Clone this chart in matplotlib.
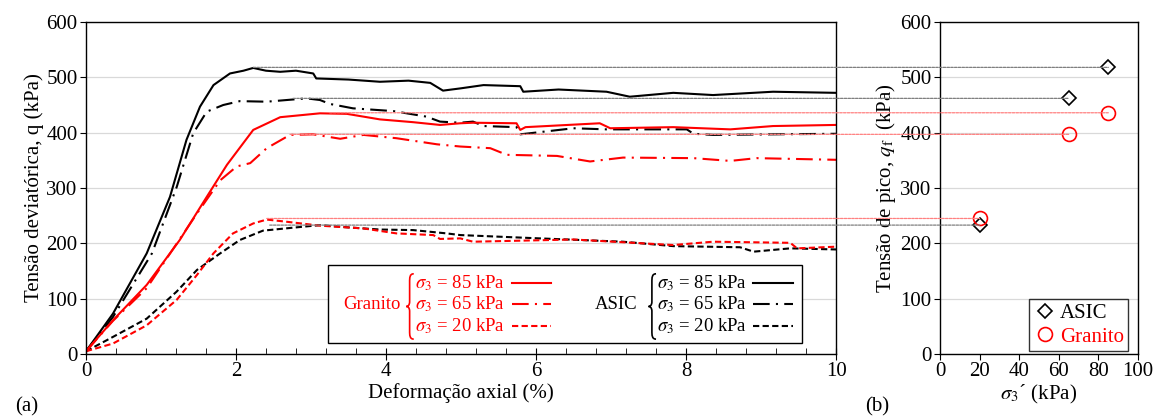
import numpy as np
import matplotlib
matplotlib.use('Agg')
import matplotlib.pyplot as plt
from matplotlib.patches import ConnectionPatch, Rectangle, PathPatch
from matplotlib.path import Path
from matplotlib.ticker import MultipleLocator

plt.rcParams['font.family'] = ['Liberation Serif', 'DejaVu Serif']
plt.rcParams['mathtext.fontset'] = 'stix'
plt.rcParams['font.size'] = 15

# === 数据区：从图上读取 ===
# ASIC, sigma3 = 85 kPa
asic85_x = [0, 0.36, 0.81, 1.12, 1.34, 1.52, 1.70, 1.92, 2.10, 2.23, 2.40, 2.59, 2.80, 3.03, 3.07,
            3.50, 3.92, 4.30, 4.59, 4.76, 4.99, 5.30, 5.79, 5.83, 6.30, 6.94, 7.25, 7.83, 8.36, 9.16, 10]
asic85_y = [5, 73, 182, 284, 387, 447, 486, 507, 512, 517, 512, 510, 512, 507, 498,
            496, 492, 494, 490, 476, 480, 486, 484, 474, 478, 474, 465, 472, 468, 474, 472]
# ASIC, sigma3 = 65 kPa
asic65_x = [0, 0.36, 0.88, 1.21, 1.43, 1.61, 1.83, 2.05, 2.41, 2.94, 3.12, 3.25, 3.56, 4.10, 4.54,
            4.72, 4.99, 5.16, 5.30, 5.74, 5.79, 6.50, 6.94, 8.01, 8.10, 8.36, 9.16, 10]
asic65_y = [5, 67, 182, 302, 399, 438, 450, 457, 456, 462, 459, 452, 444, 439, 429,
            420, 418, 420, 412, 410, 397, 408, 406, 406, 398, 396, 397, 398]
# ASIC, sigma3 = 20 kPa
asic20_x = [0, 0.36, 0.81, 1.21, 1.48, 1.79, 2.05, 2.36, 2.81, 3.12, 3.48, 3.92, 4.36, 4.81, 4.99,
            6.05, 7.16, 7.83, 8.72, 8.90, 9.39, 10]
asic20_y = [5, 31, 64, 113, 152, 182, 206, 223, 229, 233, 229, 225, 224, 218, 215,
            209, 203, 195, 193, 185, 191, 189]
# Granito, sigma3 = 85 kPa
gr85_x = [0, 0.36, 0.81, 1.25, 1.61, 1.88, 2.23, 2.59, 3.12, 3.48, 3.92, 4.36, 4.72, 4.99, 5.16,
          5.74, 5.79, 5.86, 6.85, 6.99, 7.83, 8.59, 9.16, 10]
gr85_y = [5, 61, 125, 206, 284, 342, 405, 428, 435, 434, 424, 419, 414, 417, 418,
          417, 405, 410, 417, 408, 410, 406, 412, 414]
# Granito, sigma3 = 65 kPa
gr65_x = [0, 0.36, 0.81, 1.48, 1.79, 2.01, 2.19, 2.41, 2.72, 3.03, 3.39, 3.70, 4.14, 4.68, 4.99,
          5.39, 5.61, 6.28, 6.72, 7.16, 8.10, 8.59, 8.94, 10]
gr65_y = [5, 60, 119, 254, 314, 339, 345, 372, 396, 397, 389, 396, 390, 379, 375,
          372, 360, 358, 348, 355, 354, 349, 354, 351]
# Granito, sigma3 = 20 kPa
gr20_x = [0, 0.36, 0.81, 1.21, 1.48, 1.70, 1.96, 2.23, 2.41, 2.68, 3.12, 3.70, 4.14, 4.63, 4.72,
          4.99, 5.16, 6.50, 7.83, 8.36, 9.39, 9.48, 10]
gr20_y = [5, 19, 52, 98, 143, 182, 218, 236, 243, 239, 232, 227, 218, 215, 208,
          209, 203, 207, 197, 203, 201, 191, 194]

# 峰值强度 (右图)
sigma3 = [20, 65, 85]
qf_asic = [233, 462, 518]
qf_granito = [245, 397, 436]
peak_strain_asic = [2.45, 2.76, 2.23]
peak_strain_granito = [2.41, 2.72, 3.25]

legend_labels = ['$\\sigma_3$ = 85 kPa', '$\\sigma_3$ = 65 kPa', '$\\sigma_3$ = 20 kPa']

RED = '#ff0000'
styles = {'solid': dict(linestyle='-'),
          'dashdot': dict(dashes=(8, 3, 1, 3)),
          'dashed': dict(dashes=(3, 1.6))}

# === 绘图 ===
fig = plt.figure(figsize=(11.57, 4.19), dpi=100)
ax1 = fig.add_axes([0.0743, 0.155, 0.6483, 0.7925])
ax2 = fig.add_axes([0.8124, 0.155, 0.1712, 0.7925])

for ax in (ax1, ax2):
    ax.set_ylim(0, 600)
    ax.yaxis.set_major_locator(MultipleLocator(100))
    ax.grid(axis='y', color='#d9d9d9', lw=0.9)
    ax.set_axisbelow(True)
    for sp in ax.spines.values():
        sp.set_linewidth(1.0)

# 左图
lw = 1.5
ax1.plot(asic85_x, asic85_y, color='black', lw=lw, **styles['solid'])
ax1.plot(asic65_x, asic65_y, color='black', lw=lw, **styles['dashdot'])
ax1.plot(asic20_x, asic20_y, color='black', lw=lw, **styles['dashed'])
ax1.plot(gr85_x, gr85_y, color=RED, lw=lw, **styles['solid'])
ax1.plot(gr65_x, gr65_y, color=RED, lw=lw, **styles['dashdot'])
ax1.plot(gr20_x, gr20_y, color=RED, lw=lw, **styles['dashed'])

ax1.set_xlim(0, 10)
ax1.xaxis.set_major_locator(MultipleLocator(2))
ax1.xaxis.set_minor_locator(MultipleLocator(0.4))
ax1.tick_params(axis='x', which='major', direction='inout', length=8, pad=2)
ax1.tick_params(axis='x', which='minor', direction='in', length=4)
ax1.tick_params(axis='y', direction='out', length=4, pad=2)
ax1.set_xlabel('Deformação axial (%)', labelpad=1)
ax1.set_ylabel('Tensão deviatórica, q (kPa)', labelpad=2)


def draw_brace(ax, x, y0, y1, w, color):
    ym = (y0 + y1) / 2
    h = (y1 - y0) / 2
    verts = [(x + w, y1),
             (x + w * 0.45, y1), (x + w * 0.45, y1 - h * 0.12), (x + w * 0.45, y1 - h * 0.25),
             (x + w * 0.45, ym + h * 0.15),
             (x + w * 0.45, ym + h * 0.03), (x + w * 0.2, ym), (x, ym),
             (x + w * 0.2, ym), (x + w * 0.45, ym - h * 0.03), (x + w * 0.45, ym - h * 0.15),
             (x + w * 0.45, y0 + h * 0.25),
             (x + w * 0.45, y0 + h * 0.12), (x + w * 0.45, y0), (x + w, y0)]
    codes = [Path.MOVETO,
             Path.CURVE4, Path.CURVE4, Path.CURVE4,
             Path.LINETO,
             Path.CURVE4, Path.CURVE4, Path.CURVE4,
             Path.CURVE4, Path.CURVE4, Path.CURVE4,
             Path.LINETO,
             Path.CURVE4, Path.CURVE4, Path.CURVE4]
    ax.add_patch(PathPatch(Path(verts, codes), fc='none', ec=color, lw=1.2, zorder=6))


# 自制图例框
ax1.add_patch(Rectangle((3.23, 20), 6.32, 141, fc='white', ec='black', lw=1.0, zorder=5))
rows = [128, 90, 50]
groups = [('Granito', RED, 4.19, 4.27, 4.39, 5.68, 6.20),
          ('ASIC', 'black', 7.35, 7.50, 7.61, 8.89, 9.43)]
line_styles = ['solid', 'dashdot', 'dashed']
for name, col, xname, xbrace, xtext, xl0, xl1 in groups:
    ax1.text(xname, 90, name, color=col, ha='right', va='center', zorder=6, fontsize=13.5)
    draw_brace(ax1, xbrace, 27, 145, 0.1, col)
    for yr, lab, st in zip(rows, legend_labels, line_styles):
        ax1.text(xtext, yr, lab, color=col, ha='left', va='center', zorder=6, fontsize=13.5)
        ax1.plot([xl0, xl1], [yr, yr], color=col, lw=lw, zorder=6, **styles[st])

# 右图
ax2.plot(sigma3, qf_asic, linestyle='none', marker='D', ms=7, mfc='white', mec='black',
         mew=1.2, label='ASIC', zorder=5)
ax2.plot(sigma3, qf_granito, linestyle='none', marker='o', ms=10, mfc='none', mec=RED,
         mew=1.2, label='Granito', zorder=5)
ax2.set_xlim(0, 100)
ax2.xaxis.set_major_locator(MultipleLocator(20))
ax2.tick_params(direction='out', length=4, pad=2)
ax2.set_xlabel('$\\sigma_3$´ (kPa)', labelpad=1)
ax2.set_ylabel('Tensão de pico, $q_\\mathrm{f}$  (kPa)', labelpad=2)
leg = ax2.legend(loc='lower right', bbox_to_anchor=(0.95, 0.01), frameon=True, fancybox=False,
                 edgecolor='black', handletextpad=0.1, handlelength=1.2, borderaxespad=0,
                 borderpad=0.2, labelspacing=0.2)
leg.get_frame().set_linewidth(1.0)
leg.texts[1].set_color(RED)

# 峰值连线
for xs, qs, col in [(peak_strain_asic, qf_asic, '#7f7f7f'),
                    (peak_strain_granito, qf_granito, '#ff8080')]:
    for xp, s, q in zip(xs, sigma3, qs):
        con = ConnectionPatch(xyA=(xp, q), coordsA=ax1.transData,
                              xyB=(s, q), coordsB=ax2.transData,
                              color=col, lw=0.9, linestyle=(0, (2, 1)), zorder=1)
        fig.add_artist(con)

fig.text(0.013, 0.029, '(a)', ha='left', va='center')
fig.text(0.748, 0.029, '(b)', ha='left', va='center')

fig.savefig('out.png', dpi=100)
